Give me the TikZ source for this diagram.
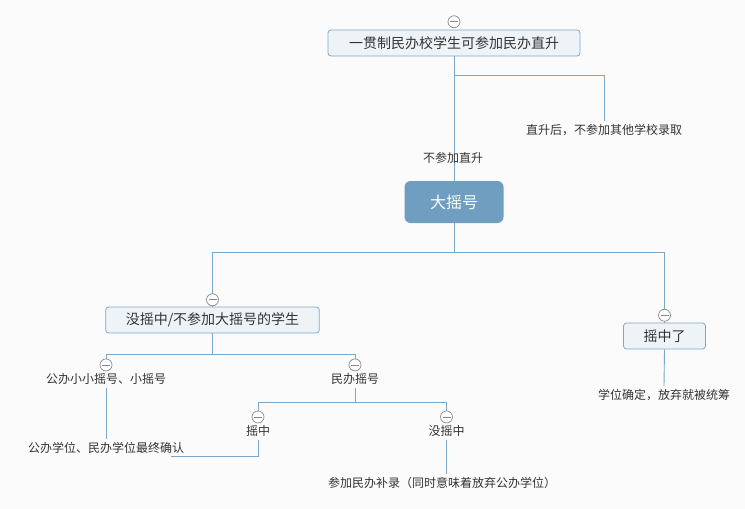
\documentclass[tikz,border=0pt]{standalone}
\usepackage{fontspec}
\setmainfont{Noto Sans CJK SC}
\usetikzlibrary{positioning}

\definecolor{bgc}{HTML}{FBFBFB}
\definecolor{linec}{HTML}{7CA7C9}
\definecolor{boxfill}{HTML}{EEF3F7}
\definecolor{mainc}{HTML}{6F9EC0}
\definecolor{foldc}{HTML}{8A8A8A}
\definecolor{textc}{HTML}{333333}

\tikzset{
  link/.style={linec, line width=0.9pt},
  topic/.style={draw=linec, fill=boxfill, rounded corners=3pt, line width=0.8pt,
    minimum height=26pt, inner xsep=20pt, text=textc, font=\fontsize{14}{16}\selectfont},
  maintopic/.style={fill=mainc, rounded corners=6pt, minimum width=99pt,
    minimum height=42pt, text=white, font=\fontsize{16}{18}\selectfont},
  leaf/.style={text=textc, inner sep=3pt, font=\fontsize{12}{14}\selectfont},
  fold/.style={circle, draw=foldc, fill=white, line width=0.7pt, minimum size=12pt,
    inner sep=0pt, path picture={\draw[foldc, line width=0.7pt]
      ([xshift=-4pt]path picture bounding box.center) --
      ([xshift=4pt]path picture bounding box.center);}}
}

\begin{document}
\begin{tikzpicture}[x=1pt,y=-1pt]
    % Background and page size
    \fill[bgc] (0,0) rectangle (745,509);
    \useasboundingbox (0,0) rectangle (745,509);

    % Top part
    \node[topic, minimum width=252pt] (root) at (454,43) {一贯制民办校学生可参加民办直升};
    \node[leaf] (direct) at (604,130) {直升后，不参加其他学校录取};
    \node[maintopic] (lottery) at (454,202) {大摇号};

    \draw[link] (root.south) -- (lottery.north);
    \draw[link] (root.south) -- ++(0,19) -| (direct.north);
    \node[leaf] (nodirect) at (453,158) {不参加直升};

    % Second level
    \node[topic] (missed) at (212.5,320) {没摇中/不参加大摇号的学生};
    \node[topic] (won) at (664.5,336) {摇中了};
    \node[leaf] (settled) at (664,395) {学位确定，放弃就被统筹};

    \draw[link] (lottery.south) -- ++(0,29) coordinate (split);
    \draw[link] (split) -| (missed.north);
    \draw[link] (split) -| (won.north);
    \draw[link] (won.south) -- (settled.north);

    % Public and private lotteries
    \node[leaf] (public) at (106,379) {公办小小摇号、小摇号};
    \node[leaf] (private) at (355,379) {民办摇号};
    \node[leaf] (confirm) at (106,448) {公办学位、民办学位最终确认};

    \draw[link] (missed.south) -- ++(0,21) coordinate (split2);
    \draw[link] (split2) -| (public.north);
    \draw[link] (split2) -| (private.north);
    \draw[link] (public.south) -- (confirm.north);

    % Private lottery results
    \node[leaf] (hit) at (258,431) {摇中};
    \node[leaf] (miss) at (446.5,431) {没摇中};
    \node[leaf] (supply) at (442,483) {参加民办补录（同时意味着放弃公办学位）};

    \draw[link] (private.south) -- ++(0,15) coordinate (split3);
    \draw[link] (split3) -| (hit.north);
    \draw[link] (split3) -| (miss.north);
    \draw[link] (hit.south) |- ([xshift=-16pt]confirm.south east);
    \draw[link] (miss.south) -- (miss.south |- supply.north);

    % Collapse markers
    \node[fold, above=1.5pt of root] (fold-root) {};
    \node[fold, above=0.5pt of missed] (fold-missed) {};
    \node[fold, above=1pt of won] (fold-won) {};
    \node[fold, above=-1pt of public] (fold-public) {};
    \node[fold, above=-1pt of private] (fold-private) {};
    \node[fold, above=-1pt of hit] (fold-hit) {};
    \node[fold, above=-1pt of miss] (fold-miss) {};
\end{tikzpicture}
\end{document}
